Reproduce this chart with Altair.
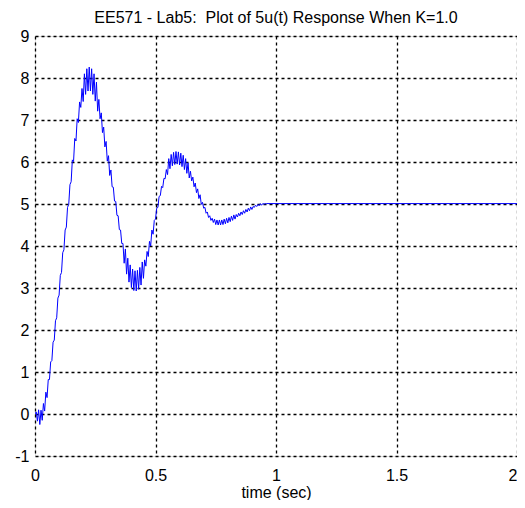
import altair as alt
import pandas as pd

# Sample instants (s) of the simulated response, every 0.005 s up to 0.95 s, then the final time
T_STEP = 0.005
N_SAMPLES = 191
t_values = [round(i * T_STEP, 3) for i in range(N_SAMPLES)] + [0.96, 2.0]

# Response values (with the high-frequency ripple)
y_values = [
    0.00, 0.05, -0.17, 0.10, -0.25, 0.09, -0.15, 0.25, 0.07, 0.52,
    0.39, 0.82, 0.82, 1.24, 1.27, 1.71, 1.76, 2.22, 2.29, 2.76,
    2.83, 3.30, 3.37, 3.84, 3.91, 4.38, 4.45, 4.92, 4.99, 5.46,
    5.53, 6.05, 6.01, 6.56, 6.50, 7.03, 6.94, 7.43, 7.30, 7.75,
    7.44, 8.10, 7.61, 8.22, 7.69, 8.26, 7.69, 8.22, 7.61, 8.10,
    7.45, 7.90, 7.21, 7.49, 7.03, 7.17, 6.70, 6.83, 6.36, 6.49,
    6.02, 6.15, 5.68, 5.81, 5.41, 5.40, 5.07, 5.06, 4.73, 4.72,
    4.39, 4.38, 4.06, 4.06, 3.59, 3.93, 3.33, 3.71, 3.14, 3.55,
    3.01, 3.45, 2.94, 3.41, 2.93, 3.42, 2.97, 3.49, 3.07, 3.62,
    3.23, 3.67, 3.52, 3.87, 3.75, 4.11, 4.00, 4.38, 4.28, 4.61,
    4.64, 4.90, 4.92, 5.18, 5.20, 5.42, 5.39, 5.61, 5.60, 5.82,
    5.70, 6.08, 5.84, 6.18, 5.91, 6.23, 5.94, 6.25, 5.95, 6.24,
    5.93, 6.21, 5.89, 6.16, 5.82, 6.08, 5.73, 5.98, 5.62, 5.78,
    5.55, 5.64, 5.41, 5.50, 5.27, 5.36, 5.13, 5.22, 4.99, 5.04,
    4.90, 4.92, 4.78, 4.81, 4.68, 4.72, 4.61, 4.66, 4.56, 4.64,
    4.51, 4.62, 4.50, 4.62, 4.50, 4.62, 4.51, 4.64, 4.53, 4.66,
    4.55, 4.68, 4.58, 4.71, 4.61, 4.74, 4.64, 4.75, 4.69, 4.78,
    4.72, 4.81, 4.75, 4.84, 4.78, 4.87, 4.81, 4.90, 4.84, 4.93,
    4.87, 4.94, 4.92, 4.97, 4.94, 4.99, 4.96, 5.01, 4.97, 5.01,
    5.00, 5.01, 5.01,
]

x_ticks = [0, 0.5, 1, 1.5, 2]
y_ticks = [-1, 0, 1, 2, 3, 4, 5, 6, 7, 8, 9]

df = pd.DataFrame({"t": t_values, "y": y_values})

FONT = "Liberation Sans"

grid_style = dict(
    grid=True,
    gridColor="#000000",
    gridDash=[3, 3],
    gridWidth=1.3,
    gridOpacity=1,
    domain=False,
    ticks=False,
    labelFont=FONT,
    labelFontSize=16,
    labelColor="#000000",
    labelFlush=False,
    labelExpr="datum.value",
)

chart = (
    alt.Chart(df)
    .mark_line(color="#0000FF", strokeWidth=1, clip=True)
    .encode(
        x=alt.X(
            "t:Q",
            scale=alt.Scale(domain=[0, 2], nice=False, zero=False),
            axis=alt.Axis(
                values=x_ticks,
                title="time (sec)",
                labelPadding=11,
                labelAlign={
                    "condition": {"test": "datum.value == 2", "value": "right"},
                    "value": "center",
                },
                titleFont=FONT,
                titleFontSize=16,
                titleFontWeight="normal",
                titleColor="#000000",
                titlePadding=1,
                **grid_style,
            ),
        ),
        y=alt.Y(
            "y:Q",
            scale=alt.Scale(domain=[-1, 9], nice=False, zero=False),
            axis=alt.Axis(
                values=y_ticks,
                title=None,
                labelPadding=6,
                **grid_style,
            ),
        ),
    )
    .properties(
        width=482,
        height=420,
        title=alt.TitleParams(
            "EE571 - Lab5:\u00a0 Plot of 5u(t) Response When K=1.0",
            font=FONT,
            fontSize=16,
            fontWeight="normal",
            color="#000000",
            anchor="middle",
            offset=2,
        ),
        autosize=alt.AutoSizeParams(type="none"),
        padding={"left": 27, "top": 28, "right": 0, "bottom": 44},
    )
    .configure_view(stroke="#000000", strokeWidth=1)
    .configure(background="#ffffff")
)

chart.save("out.html", embed_options={"renderer": "svg", "actions": False})
